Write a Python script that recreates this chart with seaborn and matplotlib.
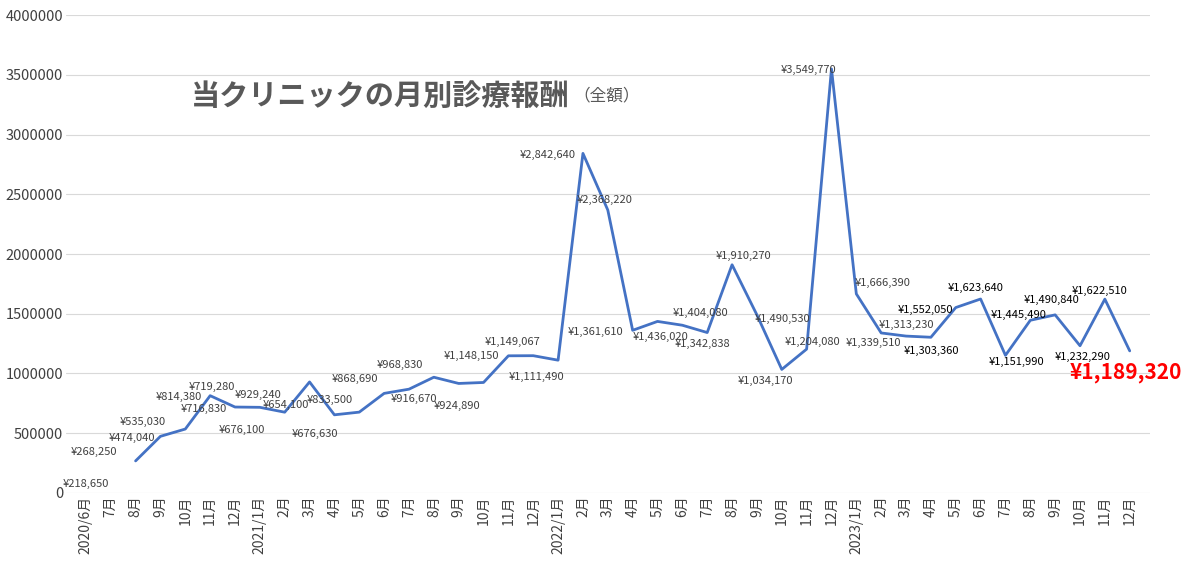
import numpy as np
import pandas as pd
import seaborn as sns
import matplotlib
matplotlib.use('Agg')
import matplotlib.pyplot as plt

# 月ラベル（2020/6月〜2023/12月）
months = (['2020/6月', '7月', '8月', '9月', '10月', '11月', '12月']
          + ['2021/1月'] + [f'{m}月' for m in range(2, 13)]
          + ['2022/1月'] + [f'{m}月' for m in range(2, 13)]
          + ['2023/1月'] + [f'{m}月' for m in range(2, 13)])

# 月別診療報酬（7月は欠損）
amount = [218650, np.nan, 268250, 474040, 535030, 814380, 719280,
          716830, 676100, 929240, 654100, 676630, 833500,
          868690, 968830, 916670, 924890, 1148150, 1149067,
          1111490, 2842640, 2368220, 1361610, 1436020, 1404080,
          1342838, 1910270, 1490530, 1034170, 1204080, 3549770,
          1666390, 1339510, 1313230, 1303360, 1552050, 1623640,
          1151990, 1445490, 1490840, 1232290, 1622510, 1189320]

# ラベル位置のずれ（ピクセル、上が正）
offsets = [(0, -17), (0, 0), (-42, 9), (-29, -2), (-43, 7), (-31, -1), (-23, 20),
           (-56, -2), (-43, -18), (-52, -13), (-49, 10), (-44, -22), (-54, -7),
           (-54, 10), (-34, 12), (-45, -16), (-27, -24), (-37, 0), (-21, 14),
           (-22, -17), (-35, -2), (-3, 10), (-37, -2), (3, -16), (18, 12),
           (-5, -11), (11, 9), (26, -4), (-16, -12), (6, 7), (-23, -1),
           (26, 11), (-8, -10), (0, 11), (1, -14), (-30, -2), (-5, 11),
           (11, -7), (-12, 5), (-4, 15), (3, -11), (-5, 8), (-4, -22)]

df = pd.DataFrame({'x': range(len(months)), 'amount': amount})

sns.set_theme(style='white')
plt.rcParams['font.family'] = ['Noto Sans CJK JP', 'DejaVu Sans']

fig = plt.figure(figsize=(12, 5.82), dpi=100)
ax = fig.add_axes([0.055, 0.153, 0.903, 0.821])

# 7月が欠損のため、線は8月から
sns.lineplot(data=df.iloc[2:], x='x', y='amount', ax=ax, color='#4472C4', linewidth=2, sort=False)

for i, v in enumerate(amount):
    if np.isnan(v):
        continue
    dx, dy = offsets[i]
    if i == len(amount) - 1:
        ax.annotate(f'¥{v:,.0f}', (i, v), xytext=(dx, dy), textcoords='offset pixels',
                    ha='center', va='center', color='#FF0000', fontsize=15, fontweight='bold')
    else:
        col = '#000000' if i >= 34 else '#404040'
        ax.annotate(f'¥{v:,.0f}', (i, v), xytext=(dx, dy), textcoords='offset pixels',
                    ha='center', va='center', color=col, fontsize=8)

ax.set_xlim(-0.8, len(months) - 0.2)
ax.set_ylim(0, 4000000)
ax.set_yticks(range(0, 4000001, 500000))
ax.set_yticklabels([str(t) for t in range(0, 4000001, 500000)], fontsize=10.5, color='#404040')
ax.set_xticks(range(len(months)))
ax.set_xticklabels(months, rotation=90, fontsize=10, color='#404040')
ax.tick_params(axis='both', length=0, pad=2)
ax.grid(axis='y', color='#D9D9D9', linewidth=0.8)
ax.set_xlabel('')
ax.set_ylabel('')
for s in ax.spines.values():
    s.set_visible(False)

ax.text(0.115, 0.83, '当クリニックの月別診療報酬', transform=ax.transAxes,
        fontsize=21, fontweight='bold', color='#595959', va='center')
ax.text(0.468, 0.83, '（全額）', transform=ax.transAxes,
        fontsize=12, color='#595959', va='center')

fig.savefig('out.png', dpi=100)
